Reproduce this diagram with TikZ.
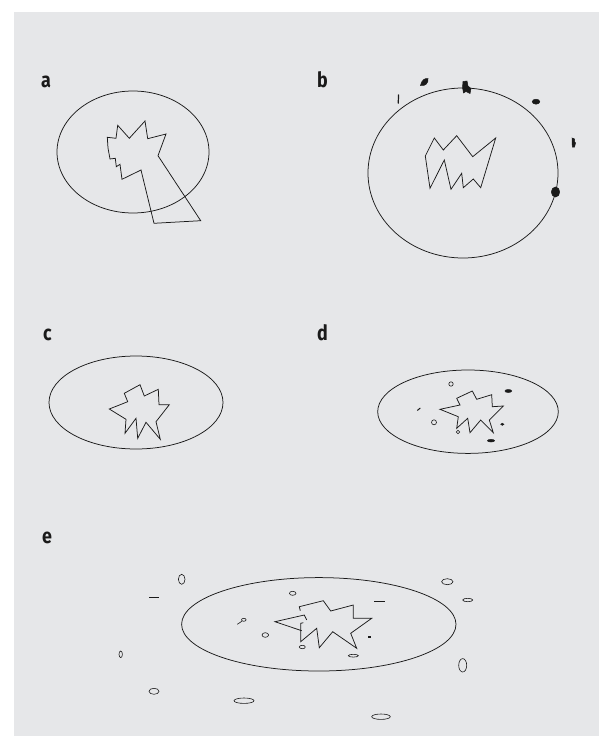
\documentclass[tikz,border=0pt]{standalone}
\usepackage{fontspec}
\setsansfont{Fira Sans}
\usetikzlibrary{calc}
\definecolor{ink}{HTML}{1A1A1A}
\definecolor{panel}{HTML}{E6E7E9}
\tikzset{
  outline/.style={draw=ink, line width=0.75pt, line join=miter},
  cell/.style={outline, fill=none},
  speck/.style={draw=ink, line width=0.6pt},
  blot/.style={fill=ink, draw=ink, line width=0.5pt},
  bar/.style={draw=ink, line width=1.4pt},
  tag/.style={font=\sffamily\bfseries\fontsize{21}{21}\selectfont, text=ink,
              anchor=base west, inner sep=0pt, xscale=0.85},
}

\begin{document}
\begin{tikzpicture}[x=1pt, y=-1pt]

  \useasboundingbox (0,0) rectangle (599,736);
  \fill[panel] (14,12) rectangle (599,736);

  % --- a ----------------------------------------------------------------
  \node[tag] (lbla) at (41,87) {a};
  \draw[cell] (133,152) ellipse [x radius=76, y radius=61];
  \draw[outline]
    (107.3,137.3) -- (116,138.3) -- (117.7,125.3) -- (129.3,138.3)
    -- (145,121) -- (147.7,138.7) -- (166,134) -- (158,155.7)
    -- (200.7,220.7) -- (154,223.3) -- (141,170) -- (122,179.3)
    -- (120,164.3) -- (116.3,166.7) -- (115.3,158.3) -- (110,159)
    -- (108,148) -- cycle;

  % --- b ----------------------------------------------------------------
  \node[tag] (lblb) at (317,87) {b};
  \draw[cell] (463,173) ellipse [x radius=95, y radius=85];
  \draw[outline]
    (425.3,156) -- (434.3,138) -- (443.3,150) -- (456.7,135.7)
    -- (472.7,156.7) -- (495.7,138) -- (480.7,187.7) -- (473.3,179)
    -- (463.3,187.7) -- (461.7,173.3) -- (451,189.3) -- (444.3,160)
    -- (430,188.3) -- cycle;
  % debris round the membrane
  \draw[ink, line width=1.2pt] (398.6,94.5) -- (398.2,103.5);
  \fill[blot] (420.5,85.5) .. controls (421.5,80) and (425,78) .. (428,78.5)
    .. controls (428.5,83) and (425.5,86.5) .. cycle;
  \fill[blot] (463,81.5) -- (467,81) -- (468,86) -- (471,88.5)
    -- (470,93.5) -- (466,91.5) -- (463.5,93) -- (462.5,87.5) -- cycle;
  \fill[blot] (536,101.7) ellipse [x radius=3.8, y radius=2.5];
  \fill[blot] (572,138) -- (574.5,139) -- (574.5,141.5) -- (575.5,143)
    -- (574.5,147) -- (572.3,147) -- cycle;
  \fill[blot] (555.5,192) ellipse [x radius=4.2, y radius=5];

  % --- c ----------------------------------------------------------------
  \node[tag] (lblc) at (43,340) {c};
  \draw[cell] (136,402.5) ellipse [x radius=87, y radius=46.5];
  \draw[outline]
    (109.3,409) -- (127.7,401.7) -- (124.3,393.3) -- (140,384.7)
    -- (144.3,396) -- (158.3,389.3) -- (159,404.7) -- (169.3,404.7)
    -- (156,421.7) -- (160.3,439.3) -- (146,422.3) -- (137.7,438.3)
    -- (136,418.3) -- (125,433.3) -- (126,419.3) -- cycle;

  % --- d ----------------------------------------------------------------
  \node[tag] (lbld) at (317,340) {d};
  \draw[cell] (468,411.7) ellipse [x radius=90.3, y radius=41.7];
  \draw[outline]
    (440,409.3) -- (460,405) -- (456.7,398.3) -- (472.3,391)
    -- (476.7,399.3) -- (491.7,394.7) -- (492.3,406.7) -- (503.3,406)
    -- (489.3,420) -- (493.3,432.7) -- (480.7,420) -- (470,432.7)
    -- (467.7,418.3) -- (456.7,428.3) -- (458.3,416.7) -- cycle;
  \draw[speck] (451,384) circle [radius=2.2];
  \draw[speck] (434,422.3) circle [radius=2.5];
  \draw[speck] (458,432) circle [radius=1.8];
  \fill[blot] (508.3,391) ellipse [x radius=3.4, y radius=1.5];
  \fill[blot] (491,440.7) ellipse [x radius=3.6, y radius=1.3];
  \fill[blot] (502.3,424.3) ellipse [x radius=1.6, y radius=1.1];
  \draw[ink, line width=1pt] (417.3,410.5) -- (420.3,408);

  % --- e ----------------------------------------------------------------
  \node[tag] (lble) at (42,543) {e};
  \draw[cell] (318.8,624.3) ellipse [x radius=137.2, y radius=46.7];
  \draw[outline]
    (300.3,610.7) -- (299.3,606.7) -- (323.3,600.7) -- (330.7,611)
    -- (353.3,605) -- (353.3,618.3) -- (371.7,618.3) -- (350.7,633.3)
    -- (356.7,648.3) -- (332.7,631.7) -- (319.3,647.7) -- (316.7,628.3)
    -- (300.7,641.7) -- (300.7,623.3) -- (303.3,622.7);
  \draw[outline]
    (306.7,620) -- (304.3,615) -- (275,621.7) -- (301.7,630.7);
  % vesicles inside the cell
  \draw[speck] (292.7,593.3) ellipse [x radius=3.3, y radius=2];
  \draw[speck] (265.3,635) ellipse [x radius=3.3, y radius=2.3];
  \draw[speck] (302.3,647) ellipse [x radius=3, y radius=1.7];
  \draw[speck] (353.3,655.7) ellipse [x radius=5, y radius=1.4];
  \draw[speck] (243.8,619.8) ellipse [x radius=2.3, y radius=1.5];
  \draw[speck] (241.8,621.3) -- (237.3,624.3);
  \draw[bar] (374,601.7) -- (385,601.7);
  \draw[bar] (368,637) -- (370.8,637);
  % vesicles outside the cell
  \draw[speck] (181.7,579.3) ellipse [x radius=3.3, y radius=5];
  \draw[bar] (149,597.7) -- (159,597.7);
  \draw[speck] (120.7,654.3) ellipse [x radius=1.7, y radius=3.3];
  \draw[speck] (154,691.3) ellipse [x radius=5, y radius=3];
  \draw[speck] (244,700.7) ellipse [x radius=10, y radius=2.7];
  \draw[speck] (381,716.7) ellipse [x radius=9.3, y radius=2.7];
  \draw[speck] (462.7,665.3) ellipse [x radius=4, y radius=6.7];
  \draw[speck] (447.3,581.7) ellipse [x radius=5.7, y radius=3];
  \draw[speck] (467.7,600) ellipse [x radius=5, y radius=1.7];

\end{tikzpicture}
\end{document}
